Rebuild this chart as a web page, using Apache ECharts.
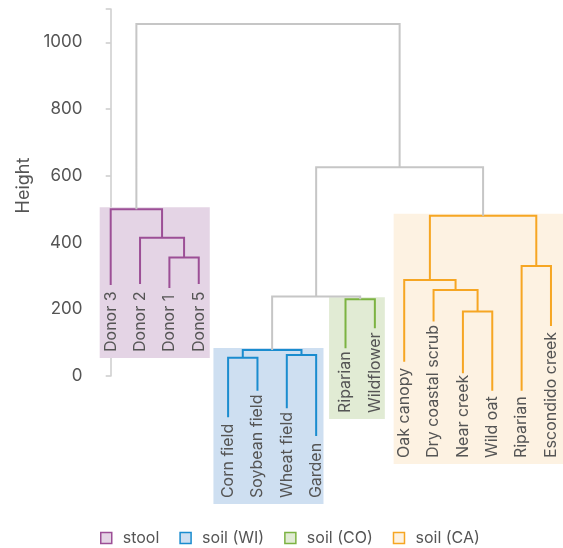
<!DOCTYPE html>
<html>
<head>
<meta charset="utf-8">
<script src="https://cdn.jsdelivr.net/npm/echarts@6/dist/echarts.min.js"></script>
<style>
  html, body { margin: 0; padding: 0; background: #fff; }
  #chart { width: 563px; height: 548px; }
</style>
</head>
<body>
<div id="chart"></div>
<script>
// leaves, left to right
const leafNames = ["Donor 3", "Donor 2", "Donor 1", "Donor 5", "Corn field", "Soybean field", "Wheat field", "Garden",
  "Riparian", "Wildflower", "Oak canopy", "Dry coastal scrub", "Near creek", "Wild oat", "Riparian", "Escondido creek"];
const leafGroup = [0, 0, 0, 0, 1, 1, 1, 1, 2, 2, 3, 3, 3, 3, 3, 3];
// height where each leaf line stops
const leafEnd = [273, 276, 264, 276, -124, -44, -97, -180, 83, 143, 43, 163, 8, -44, -44, 150];

// merges (node ids 16.. in order), children can be leaves (0-15) or earlier merges
const mergeLeft = [2, 1, 0, 4, 6, 19, 8, 21, 12, 11, 10, 14, 26, 23, 18];
const mergeRight = [3, 16, 17, 5, 7, 20, 9, 22, 13, 24, 25, 15, 27, 28, 29];
const mergeHeight = [355, 414, 500, 55, 63, 78, 230, 238, 193, 258, 288, 330, 480, 626, 1055];

// groups
const groupNames = ["stool", "soil (WI)", "soil (CO)", "soil (CA)"];
const groupLine = ["#9c4f96", "#1a8ccf", "#7cb342", "#f6a623"];
const groupFill = ["#e4d4e5", "#cedff1", "#e1ebd4", "#fdf2e2"];
const groupLabelFloor = [72, -366, -111, -246];
const groupSpanStart = [-0.375, 3.5, 7.44, 9.64];
const groupSpanEnd = [3.375, 7.25, 9.34, 15.41];

const yTicks = [0, 200, 400, 600, 800, 1000];

const GRAY = "#c6c6c6";
const TEXT = "#555";
const FONT = "Inter, 'Noto Sans', sans-serif";

// node positions / groups
const nLeaf = leafNames.length;
const nodeX = [], nodeH = [], nodeG = [];
for (let i = 0; i < nLeaf; i++) {
  nodeX[i] = i; nodeH[i] = leafEnd[i]; nodeG[i] = leafGroup[i];
}
const links = [];
mergeLeft.forEach((l, k) => {
  const r = mergeRight[k];
  const id = nLeaf + k;
  nodeX[id] = (nodeX[l] + nodeX[r]) / 2;
  nodeH[id] = mergeHeight[k];
  nodeG[id] = nodeG[l] === nodeG[r] ? nodeG[l] : -1;
  links.push([nodeX[l], nodeX[r], mergeHeight[k], nodeH[l], nodeH[r], nodeG[id]]);
});
const groupRoot = groupNames.map((n, g) => {
  let m = -Infinity;
  mergeHeight.forEach((h, k) => { if (nodeG[nLeaf + k] === g) m = Math.max(m, h); });
  return m;
});

const chart = echarts.init(document.getElementById("chart"));

const rectSeries = groupNames.map((name, g) => ({
  name: name,
  type: "custom",
  z: 1,
  silent: true,
  clip: false,
  data: [[groupSpanStart[g], groupSpanEnd[g], groupRoot[g], groupLabelFloor[g]]],
  renderItem: function (params, api) {
    const a = api.coord([api.value(0), api.value(2)]);
    const b = api.coord([api.value(1), api.value(3)]);
    return {
      type: "rect",
      shape: { x: a[0], y: a[1] - 2, width: b[0] - a[0], height: b[1] + 6 - (a[1] - 2) },
      style: { fill: groupFill[g] }
    };
  }
}));

const option = {
  animation: false,
  textStyle: { fontFamily: FONT },
  grid: { left: 92.5, right: 0, top: 9, bottom: 172 },
  xAxis: { type: "value", min: -0.62, max: 15.41, show: false },
  yAxis: {
    type: "value",
    min: 0,
    max: 1100,
    interval: 200,
    name: "Height",
    nameLocation: "middle",
    nameGap: 57,
    nameTextStyle: { fontSize: 18, color: TEXT, padding: [0, 0, 0, 14] },
    axisLine: { show: true, lineStyle: { color: "#cccccc", width: 1.5 } },
    axisTick: { show: true, length: 5, lineStyle: { color: "#cccccc", width: 1.5 } },
    axisLabel: {
      fontSize: 17, color: TEXT, margin: 10,
      formatter: v => (yTicks.indexOf(v) >= 0 ? String(v) : "")
    },
    splitLine: { show: false }
  },
  legend: {
    top: 530,
    left: 100,
    padding: 0,
    itemWidth: 11,
    itemHeight: 11,
    itemGap: 20,
    icon: "rect",
    textStyle: { fontSize: 16, color: TEXT, padding: [0, 0, 0, 6] },
    data: groupNames.map((n, g) => ({
      name: n,
      itemStyle: { color: groupFill[g], borderColor: groupLine[g], borderWidth: 1.5 }
    }))
  },
  series: rectSeries.concat([
    {
      name: "links",
      type: "custom",
      z: 2,
      silent: true,
      clip: false,
      data: links,
      renderItem: function (params, api) {
        const g = api.value(5);
        const p1 = api.coord([api.value(0), api.value(3)]);
        const p2 = api.coord([api.value(0), api.value(2)]);
        const p3 = api.coord([api.value(1), api.value(2)]);
        const p4 = api.coord([api.value(1), api.value(4)]);
        return {
          type: "polyline",
          shape: { points: [p1, p2, p3, p4] },
          style: { stroke: g < 0 ? GRAY : groupLine[g], lineWidth: 2, fill: "none" }
        };
      }
    },
    {
      name: "labels",
      type: "custom",
      z: 3,
      silent: true,
      clip: false,
      data: leafNames.map((n, i) => [i, groupLabelFloor[leafGroup[i]]]),
      renderItem: function (params, api) {
        const p = api.coord([api.value(0), api.value(1)]);
        return {
          type: "text",
          x: p[0],
          y: p[1],
          rotation: Math.PI / 2,
          style: {
            text: leafNames[params.dataIndex],
            fontSize: 16,
            fontFamily: FONT,
            fill: TEXT,
            align: "left",
            verticalAlign: "middle"
          }
        };
      }
    }
  ])
};

chart.setOption(option);
</script>
</body>
</html>
